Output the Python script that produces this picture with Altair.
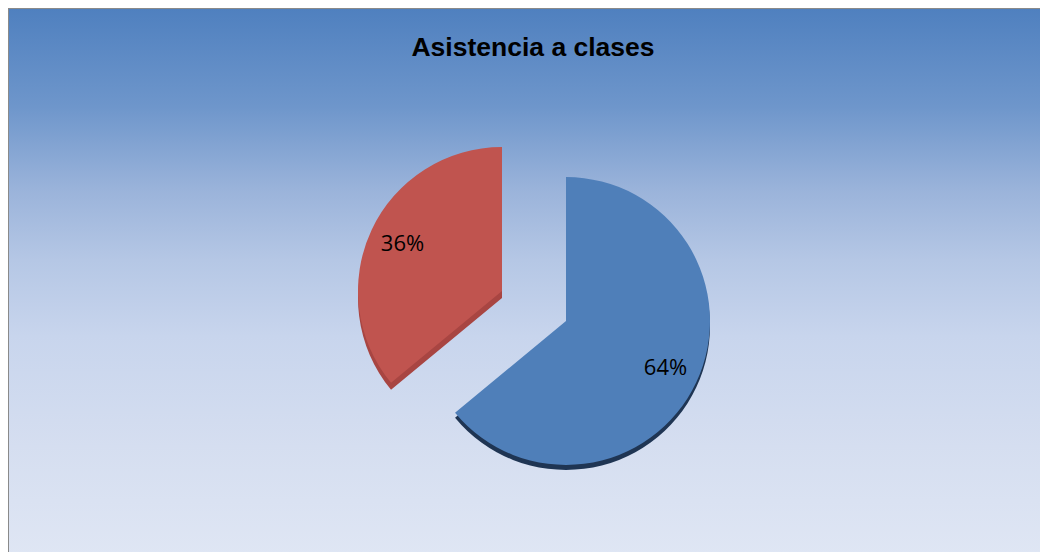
import math
import altair as alt
import pandas as pd

# ---- data ----
categories = ["Asiste", "No asiste"]
values = [64, 36]
labels = ["64%", "36%"]
order = [0, 1]

# ---- styles ----
face_colors = {"Asiste": "#4f7fb9", "No asiste": "#c0544f"}
side_colors = {"Asiste": "#1f3553", "No asiste": "#a84542"}
W, H = 1032, 544
CX, CY = 558, 313
R = 144
LABEL_R = 110
explode = {"Asiste": (0, 0), "No asiste": (-64, -30)}
side_drop = {"Asiste": 5, "No asiste": 7}

df = pd.DataFrame({"cat": categories, "value": values, "label": labels, "order": order})

theta_scale = alt.Scale(domain=[0, 100], range=[0, 2 * math.pi])

base = (
    alt.Chart(df)
    .transform_stack(stack="value", as_=["v0", "v1"], groupby=[], sort=[alt.SortField("order")])
    .transform_calculate(mid="(datum.v0 + datum.v1) / 2")
)

gradient = {
    "gradient": "linear",
    "x1": 0, "y1": 0, "x2": 0, "y2": 1,
    "stops": [
        {"offset": 0.0, "color": "#4f80bf"},
        {"offset": 0.18, "color": "#6e96cb"},
        {"offset": 0.33, "color": "#9ab3da"},
        {"offset": 0.46, "color": "#b5c7e5"},
        {"offset": 0.6, "color": "#c8d5ed"},
        {"offset": 0.8, "color": "#d5def0"},
        {"offset": 1.0, "color": "#dfe6f4"},
    ],
}

bg = (
    alt.Chart(pd.DataFrame({"d": [0]}))
    .mark_rect(fill=gradient, stroke="#8a8a8a", strokeWidth=2)
    .encode(x=alt.value(0), x2=alt.value(W + 4), y=alt.value(0), y2=alt.value(H + 4))
)

layers = [bg]
# side (3D depth) layers
for cat in categories:
    dx, dy = explode[cat]
    layers.append(
        base.transform_filter(alt.datum.cat == cat)
        .mark_arc(outerRadius=R, color=side_colors[cat])
        .encode(
            theta=alt.Theta("v0:Q", scale=theta_scale),
            theta2="v1:Q",
            x=alt.value(CX + dx),
            y=alt.value(CY + dy + side_drop[cat]),
        )
    )
# top faces
for cat in categories:
    dx, dy = explode[cat]
    layers.append(
        base.transform_filter(alt.datum.cat == cat)
        .mark_arc(outerRadius=R, color=face_colors[cat])
        .encode(
            theta=alt.Theta("v0:Q", scale=theta_scale),
            theta2="v1:Q",
            x=alt.value(CX + dx),
            y=alt.value(CY + dy),
            tooltip=["cat:N", "value:Q"],
        )
    )
# labels
for cat in categories:
    dx, dy = explode[cat]
    layers.append(
        base.transform_filter(alt.datum.cat == cat)
        .mark_text(font="Open Sans", fontSize=22, color="#000000", align="center", baseline="middle")
        .encode(
            theta=alt.Theta("mid:Q", scale=theta_scale),
            radius=alt.value(LABEL_R),
            x=alt.value(CX + dx),
            y=alt.value(CY + dy),
            text="label:N",
        )
    )

chart = (
    alt.layer(*layers)
    .properties(
        width=W,
        height=H,
        padding=0,
        autosize=alt.AutoSizeParams(type="none"),
        title=alt.TitleParams(
            "Asistencia a clases",
            font="Liberation Sans",
            fontSize=26.5,
            fontWeight="bold",
            color="#000000",
            anchor="middle",
            baseline="alphabetic",
            offset=-75,
            dx=9,
        ),
    )
    .configure_view(stroke=None)
)

chart.save("out.html", embed_options={"renderer": "svg", "actions": False})
